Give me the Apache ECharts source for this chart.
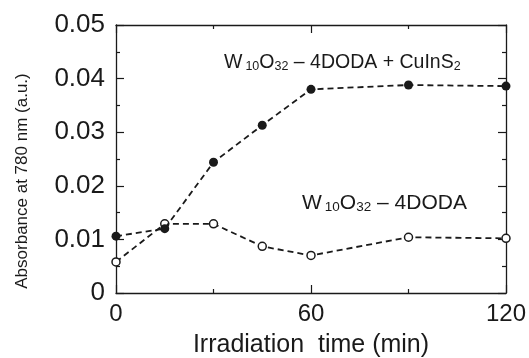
<!DOCTYPE html>
<html><head><meta charset="utf-8">
<script src="https://cdn.jsdelivr.net/npm/echarts@6/dist/echarts.min.js"></script>
<style>html,body{margin:0;padding:0;background:#fff}#c{width:529px;height:358px}</style>
</head><body><div id="c"></div>
<script>
const times = [0, 15, 30, 45, 60, 90, 120];
const withCuInS2 = [0.0106, 0.0120, 0.0244, 0.0313, 0.0380, 0.0388, 0.0386];
const withoutCuInS2 = [0.0058, 0.0129, 0.0129, 0.0087, 0.0070, 0.0104, 0.0102];
const xTicks = [0, 60, 120];
const yTicks = [0, 0.01, 0.02, 0.03, 0.04, 0.05];
const xTitle = 'Irradiation  time (min)';
const yTitle = 'Absorbance at 780 nm (a.u.)';

const FONT = 'Liberation Sans, Arial, sans-serif';
const C = '#1a1a1a';
const chart = echarts.init(document.getElementById('c'), null, {renderer: 'canvas'});

function pairs(xs, ys) { return xs.map((x, i) => [x, ys[i]]); }

const axisCommon = {
  axisLine: {show: true, onZero: false, lineStyle: {color: C, width: 1.3}},
  axisTick: {show: true, inside: true, length: 8, lineStyle: {color: C, width: 1.2}},
  minorTick: {show: true, splitNumber: 2, length: 4, lineStyle: {color: C, width: 1.2}},
  splitLine: {show: false},
  minorSplitLine: {show: false}
};

function richLabel(main, sub) {
  return {
    a: {fontFamily: FONT, fontSize: main, fill: C, verticalAlign: 'bottom', lineHeight: 28},
    s: {fontFamily: FONT, fontSize: sub, fill: C, verticalAlign: 'bottom', lineHeight: 28},
    s1: {fontFamily: FONT, fontSize: sub, fill: C, verticalAlign: 'bottom', lineHeight: 28, padding: [0, 0, 0, 3]}
  };
}

chart.setOption({
  animation: false,
  backgroundColor: '#fff',
  grid: {left: 116, right: 23, top: 25, bottom: 65, containLabel: false, outerBoundsMode: 'none'},
  xAxis: [
    Object.assign({}, axisCommon, {
      type: 'value', min: xTicks[0], max: xTicks[xTicks.length - 1], interval: 60,
      position: 'bottom',
      name: xTitle, nameLocation: 'middle', nameGap: 40,
      nameTextStyle: {fontFamily: FONT, fontSize: 25, color: C},
      axisLabel: {fontFamily: FONT, fontSize: 24, color: C, margin: 9,
        formatter: v => xTicks.indexOf(v) >= 0 ? String(v) : ''}
    }),
    Object.assign({}, axisCommon, {
      type: 'value', min: xTicks[0], max: xTicks[xTicks.length - 1], interval: 60,
      position: 'top', axisLabel: {show: false}
    })
  ],
  yAxis: [
    Object.assign({}, axisCommon, {
      type: 'value', min: yTicks[0], max: yTicks[yTicks.length - 1], interval: 0.01,
      position: 'left',
      axisLabel: {fontFamily: FONT, fontSize: 26, color: C, margin: 11,
        formatter: v => v === 0 ? '0' : v.toFixed(2)}
    }),
    Object.assign({}, axisCommon, {
      type: 'value', min: yTicks[0], max: yTicks[yTicks.length - 1], interval: 0.01,
      position: 'right', axisLabel: {show: false}
    })
  ],
  graphic: [
    {
      type: 'text', x: 22, y: 181, rotation: Math.PI / 2,
      style: {text: yTitle, fontFamily: FONT, fontSize: 17, fill: C, align: 'center', verticalAlign: 'middle'}
    },
    {
      type: 'text', x: 224, y: 73,
      style: {
        text: '{a|W}{s1|10}{a|O}{s|32}{a| – 4DODA + CuInS}{s|2}',
        fontFamily: FONT, fill: C, align: 'left', verticalAlign: 'bottom',
        rich: richLabel(19.5, 12.5)
      }
    },
    {
      type: 'text', x: 302, y: 214,
      style: {
        text: '{a|W}{s1|10}{a|O}{s|32}{a| – 4DODA}',
        fontFamily: FONT, fill: C, align: 'left', verticalAlign: 'bottom',
        rich: richLabel(21, 13.5)
      }
    }
  ],
  series: [
    {
      type: 'line', data: pairs(times, withoutCuInS2), xAxisIndex: 0, yAxisIndex: 0,
      symbol: 'circle', symbolSize: 8, z: 2,
      lineStyle: {color: C, width: 1.8, type: [6, 4]},
      itemStyle: {color: '#fff', borderColor: C, borderWidth: 1.5}
    },
    {
      type: 'line', data: pairs(times, withCuInS2), xAxisIndex: 0, yAxisIndex: 0,
      symbol: 'circle', symbolSize: 9, z: 3,
      lineStyle: {color: C, width: 1.8, type: [6, 4]},
      itemStyle: {color: C, borderColor: C, borderWidth: 0}
    }
  ]
});
</script></body></html>
